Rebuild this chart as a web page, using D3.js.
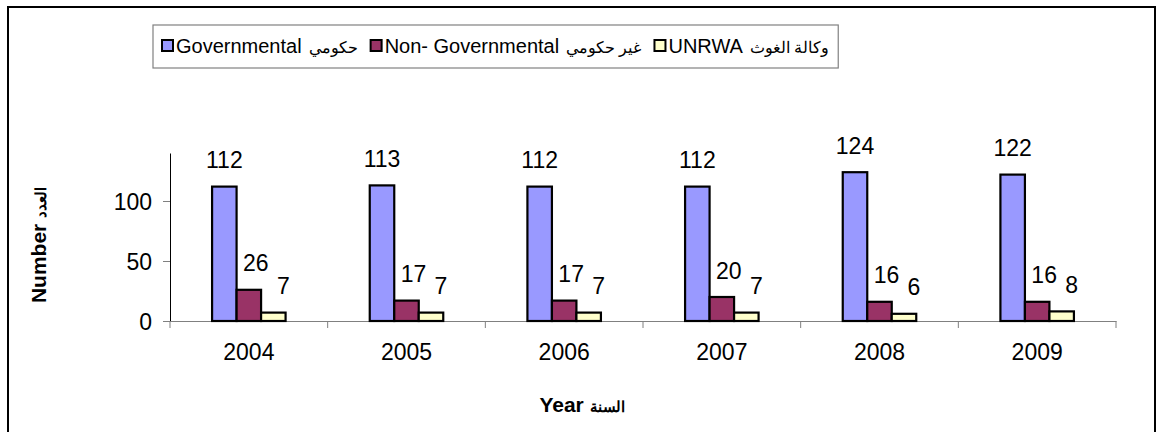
<!DOCTYPE html>
<html>
<head>
<meta charset="utf-8">
<script src="https://cdn.jsdelivr.net/npm/d3@7"></script>
<style>
  body { margin: 0; background: #fff; }
  svg { display: block; font-family: Arial, "Liberation Sans", sans-serif; }
</style>
</head>
<body>
<div id="container"></div>
<script>
//DATA
const years = ['2004', '2005', '2006', '2007', '2008', '2009']
const governmental = [112, 113, 112, 112, 124, 122]
const nonGovernmental = [26, 17, 17, 20, 16, 16]
const unrwa = [7, 7, 7, 7, 6, 8]
const seriesEn = ['Governmental', 'Non- Governmental', 'UNRWA']
const seriesAr = ['حكومي', 'غير حكومي', 'وكالة الغوث']
const yTicks = [0, 50, 100]

const seriesValues = [governmental, nonGovernmental, unrwa]
const colors = ['#9999FF', '#993366', '#FFFFCC']
const labelShift = [0, 7, 10]

//BOX
const w = 1158
const h = 432
const plot = { left: 170, right: 1116, top: 153, bottom: 321 }

const svg = d3.select('#container')
    .append('svg')
    .attr('width', w)
    .attr('height', h)

//FRAME
svg.append('rect')
    .attr('x', 8)
    .attr('y', 7)
    .attr('width', 1147)
    .attr('height', 440)
    .attr('fill', 'none')
    .attr('stroke', '#000')
    .attr('stroke-width', 2)

//SCALES
const xscale = d3.scaleBand()
    .domain(years)
    .range([plot.left, plot.right])

const barW = 24.5
const sscale = d3.scaleBand()
    .domain(d3.range(seriesValues.length))
    .range([-barW * 1.5, barW * 1.5])

const yscale = d3.scaleLinear()
    .domain([0, 140])
    .range([plot.bottom, plot.top])

//Y AXIS
const yaxis = svg.append('g')
    .attr('transform', 'translate(' + plot.left + ',0)')
    .call(d3.axisLeft(yscale).tickValues(yTicks).tickSize(7).tickSizeOuter(0).tickPadding(11))
yaxis.select('.domain').attr('stroke', '#000')
yaxis.selectAll('.tick line').attr('stroke', '#808080')
yaxis.selectAll('.tick text')
    .attr('font-size', 23)
    .attr('font-family', 'Arial, "Liberation Sans", sans-serif')
    .attr('fill', '#000')
    .attr('dy', '0.35em')

//X AXIS
const xaxis = svg.append('g')
    .attr('transform', 'translate(0,' + plot.bottom + ')')
    .call(d3.axisBottom(xscale).tickSize(0).tickPadding(23))
xaxis.select('.domain').attr('stroke', '#808080')
xaxis.selectAll('.tick text')
    .attr('font-size', 23)
    .attr('font-family', 'Arial, "Liberation Sans", sans-serif')
    .attr('fill', '#000')

//category boundary ticks
const bounds = years.map(d => xscale(d)).concat([xscale(years[years.length - 1]) + xscale.bandwidth()])
xaxis.selectAll('line.bound')
    .data(bounds)
    .enter()
    .append('line')
    .attr('class', 'bound')
    .attr('x1', d => d)
    .attr('x2', d => d)
    .attr('y1', 0)
    .attr('y2', 7)
    .attr('stroke', '#808080')

//BARS
const groups = svg.append('g')
    .selectAll('g')
    .data(years)
    .enter()
    .append('g')
    .attr('transform', d => 'translate(' + (xscale(d) + xscale.bandwidth() / 2) + ',0)')

groups.selectAll('rect')
    .data((d, i) => seriesValues.map((s, k) => ({ k: k, v: s[i] })))
    .enter()
    .append('rect')
    .attr('x', d => sscale(d.k))
    .attr('y', d => yscale(d.v))
    .attr('width', sscale.bandwidth())
    .attr('height', d => yscale(0) - yscale(d.v))
    .attr('fill', d => colors[d.k])
    .attr('stroke', '#000')
    .attr('stroke-width', 2.2)

//LABELS
groups.selectAll('text')
    .data((d, i) => seriesValues.map((s, k) => ({ k: k, v: s[i] })))
    .enter()
    .append('text')
    .attr('x', d => sscale(d.k) + sscale.bandwidth() / 2 + labelShift[d.k])
    .attr('y', d => yscale(d.v) - 18.5)
    .attr('text-anchor', 'middle')
    .attr('font-size', 23)
    .text(d => d.v)

//LEGEND
const legend = svg.append('g')
const legendBox = legend.append('rect')
    .attr('x', 153)
    .attr('y', 25)
    .attr('height', 43)
    .attr('fill', '#fff')
    .attr('stroke', '#808080')
    .attr('stroke-width', 1.2)

let lx = 162
const gap = 13
seriesEn.forEach((name, k) => {
    legend.append('rect')
        .attr('x', lx)
        .attr('y', 40)
        .attr('width', 11)
        .attr('height', 11)
        .attr('fill', colors[k])
        .attr('stroke', '#000')
        .attr('stroke-width', 2)
    const t = legend.append('text')
        .attr('x', lx + 14)
        .attr('y', 52.5)
        .attr('font-size', 20)
        .text(name)
    const tw = t.node().getComputedTextLength()
    const a = legend.append('text')
        .attr('x', lx + 14 + tw + 7)
        .attr('y', 52.5)
        .attr('font-size', 15.5)
        .text(seriesAr[k])
    lx = lx + 14 + tw + 7 + a.node().getComputedTextLength() + gap
})
legendBox.attr('width', lx - gap + 9 - 153)

//AXIS TITLES
const ytitle = svg.append('text')
    .attr('transform', 'translate(46,245) rotate(-90)')
    .attr('text-anchor', 'middle')
    .attr('font-weight', 'bold')
    .attr('font-size', 21)
ytitle.append('tspan').text('Number ')
ytitle.append('tspan').attr('font-size', 15).text('العدد')

const xtitle = svg.append('text')
    .attr('x', 582)
    .attr('y', 412)
    .attr('text-anchor', 'middle')
    .attr('font-weight', 'bold')
    .attr('font-size', 21)
xtitle.append('tspan').text('Year ')
xtitle.append('tspan').attr('font-size', 15).text('السنة')
</script>
</body>
</html>
